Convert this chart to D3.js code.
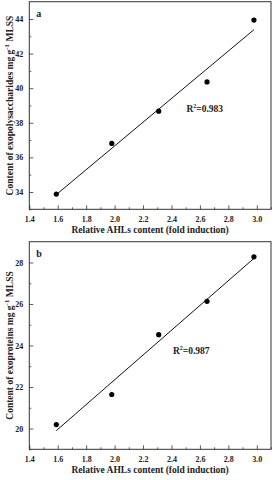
<!DOCTYPE html>
<html>
<head>
<meta charset="utf-8">
<script src="https://cdn.jsdelivr.net/npm/d3@7"></script>
<style>
  body { margin: 0; background: #fff; }
  svg text { font-family: "Liberation Serif", "Times New Roman", serif; font-weight: bold; fill: #222; }
</style>
</head>
<body>
<div id="chart"></div>
<script>
// relative AHLs content (fold induction), shared by both panels
const ahls = [1.59, 1.98, 2.31, 2.65, 2.98];
// panel a: exopolysaccharides, panel b: exoproteins (mg g-1 MLSS)
const polysaccharides = [33.88, 36.81, 38.67, 40.36, 43.94];
const proteins = [20.19, 21.64, 24.52, 26.13, 28.27];

const xTicks = [1.4, 1.6, 1.8, 2.0, 2.2, 2.4, 2.6, 2.8, 3.0];
const yTicksA = [34, 36, 38, 40, 42, 44];
const yTicksB = [20, 22, 24, 26, 28];

const panels = [
    { letter: 'a', ys: polysaccharides, yTicks: yTicksA, yDomain: [33, 45], r2val: '=0.983',
      ylab: 'Content of exopolysaccharides mg g', top: 1.7, r2pos: [2.505, 38.6] },
    { letter: 'b', ys: proteins, yTicks: yTicksB, yDomain: [19, 29], r2val: '=0.987',
      ylab: 'Content of exoproteins mg g', top: 241.7, r2pos: [2.41, 23.6] }
];

const width = 276, height = 480;
const left = 29.3, right = 271, plotH = 207.6;

const svg = d3.select('#chart').append('svg')
    .attr('width', width)
    .attr('height', height);

// least squares fit
function fitLine(xs, ys) {
    const mx = d3.mean(xs), my = d3.mean(ys);
    let sxy = 0, sxx = 0;
    xs.forEach((x, i) => {
        sxy += (x - mx) * (ys[i] - my);
        sxx += (x - mx) * (x - mx);
    });
    const slope = sxy / sxx;
    return x => my + slope * (x - mx);
}

function drawPanel(p) {
    const g = svg.append('g');
    const x = d3.scaleLinear().domain([1.4, 3.1]).range([left, right]);
    const y = d3.scaleLinear().domain(p.yDomain).range([p.top + plotH, p.top]);

    // minor ticks
    const xMinor = d3.range(1.5, 3.11, 0.2);
    const yMinor = d3.range(p.yDomain[0], p.yDomain[1], 1).filter(v => !p.yTicks.includes(v));

    g.append('g')
        .attr('transform', 'translate(0,' + (p.top + plotH) + ')')
        .call(d3.axisBottom(x).tickValues(xTicks).tickFormat(d3.format('.1f')).tickSizeInner(-4).tickSizeOuter(0).tickPadding(7));
    g.append('g')
        .attr('transform', 'translate(0,' + (p.top + plotH) + ')')
        .call(d3.axisBottom(x).tickValues(xMinor).tickFormat('').tickSizeInner(-2).tickSizeOuter(0));

    g.append('g')
        .attr('transform', 'translate(' + left + ',0)')
        .call(d3.axisLeft(y).tickValues(p.yTicks).tickSizeInner(-4).tickSizeOuter(0).tickPadding(6));
    g.append('g')
        .attr('transform', 'translate(' + left + ',0)')
        .call(d3.axisLeft(y).tickValues(yMinor).tickFormat('').tickSizeInner(-2).tickSizeOuter(0));

    g.selectAll('.domain').remove();
    g.selectAll('.tick line').attr('stroke', '#333').attr('stroke-width', 0.8);
    g.selectAll('.tick text').attr('font-size', 8).attr('font-family', '"Liberation Serif", serif').attr('font-weight', 'bold').attr('fill', '#222');

    // frame
    g.append('rect')
        .attr('x', left).attr('y', p.top)
        .attr('width', right - left).attr('height', plotH)
        .attr('fill', 'none').attr('stroke', '#333').attr('stroke-width', 1);

    // regression line
    const f = fitLine(ahls, p.ys);
    const x0 = d3.min(ahls), x1 = d3.max(ahls);
    g.append('line')
        .attr('x1', x(x0)).attr('y1', y(f(x0)))
        .attr('x2', x(x1)).attr('y2', y(f(x1)))
        .attr('stroke', '#111').attr('stroke-width', 1);

    g.selectAll('circle')
        .data(ahls)
        .enter()
        .append('circle')
        .attr('cx', d => x(d))
        .attr('cy', (d, i) => y(p.ys[i]))
        .attr('r', 2.6)
        .attr('fill', '#000');

    g.append('text')
        .attr('x', left + 7).attr('y', p.top + 15.5)
        .attr('font-size', 10)
        .text(p.letter);

    const r2 = g.append('text')
        .attr('x', x(p.r2pos[0])).attr('y', y(p.r2pos[1]))
        .attr('font-size', 9.5);
    r2.append('tspan').text('R');
    r2.append('tspan').attr('dy', -4).attr('font-size', 6).text('2');
    r2.append('tspan').attr('dy', 4).text(p.r2val);

    g.append('text')
        .attr('x', (left + right) / 2).attr('y', p.top + plotH + 24)
        .attr('text-anchor', 'middle')
        .attr('font-size', 9.5)
        .text('Relative AHLs content (fold induction)');

    const yl = g.append('text')
        .attr('transform', 'translate(13,' + (p.top + plotH / 2) + ') rotate(-90)')
        .attr('text-anchor', 'middle')
        .attr('font-size', 9.5);
    yl.append('tspan').text(p.ylab);
    yl.append('tspan').attr('dy', -4).attr('font-size', 7).text('-1');
    yl.append('tspan').attr('dy', 4).text(' MLSS');
}

panels.forEach(drawPanel);
</script>
</body>
</html>
